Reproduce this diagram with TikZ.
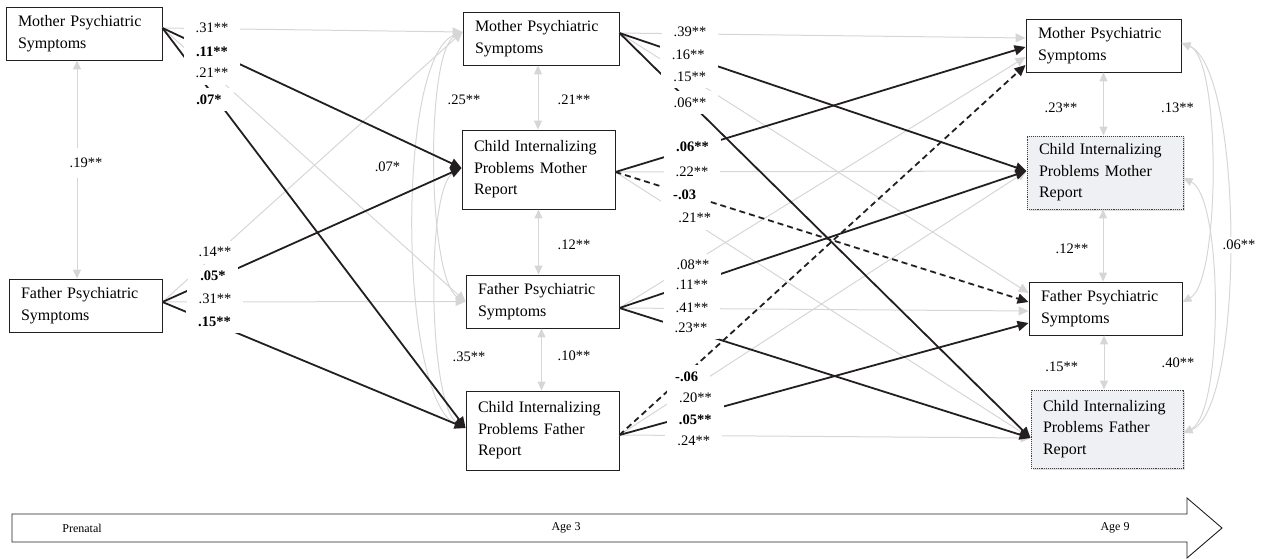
\documentclass[tikz,border=0pt]{standalone}
\usepackage{fontspec}
\setmainfont{Liberation Serif}
\usetikzlibrary{arrows.meta,shadows,calc}
\definecolor{lg}{RGB}{214,214,216}
\definecolor{dk}{RGB}{35,31,32}
\definecolor{boxfill}{RGB}{239,240,243}
\tikzset{
 box/.style={draw=dk, line width=0.9pt, align=left, inner xsep=12pt, inner ysep=0pt, font=\fontsize{16}{21.5}\selectfont},
 sbox/.style={box, fill=boxfill, draw=black!75, densely dotted, drop shadow={shadow xshift=1.5pt, shadow yshift=-1.5pt, opacity=0.25}},
 gl/.style={draw=lg, line width=1pt, -{Triangle[length=10pt,width=9pt]}},
 bl/.style={draw=dk, line width=1.8pt, -{Triangle[length=11pt,width=10pt]}},
 dl/.style={bl, dash pattern=on 6pt off 4pt},
 gd/.style={draw=lg, line width=1pt, {Triangle[length=9pt,width=8pt]}-{Triangle[length=9pt,width=8pt]}},
 lab/.style={fill=white, inner xsep=12pt, inner ysep=3pt, minimum height=23pt, font=\fontsize{14.5}{16}\selectfont},
 blab/.style={lab, font=\fontsize{14.5}{16}\selectfont\bfseries},
 clab/.style={fill=white, inner xsep=3pt, inner ysep=3pt, font=\fontsize{14.5}{16}\selectfont},
 tlab/.style={inner sep=0pt, font=\fontsize{12}{14}\selectfont},
}
\begin{document}
\begin{tikzpicture}[x=1pt,y=-1pt]
\path[use as bounding box] (0,0) rectangle (1263,559);

% boxes
\node[box, text width=132pt, minimum height=53pt] (LM) at (84,33.5) {Mother Psychiatric\\Symptoms};
\node[box, text width=129pt, minimum height=53pt] (LF) at (85.5,305.5) {Father Psychiatric\\Symptoms};
\node[box, text width=132pt, minimum height=53pt] (mM) at (541,38.5) {Mother Psychiatric\\Symptoms};
\node[box, text width=129pt, minimum height=79pt] (mCM) at (538.5,169.5) {Child Internalizing\\Problems Mother\\Report};
\node[box, text width=129pt, minimum height=53pt] (mF) at (542.5,301.5) {Father Psychiatric\\Symptoms};
\node[box, text width=129pt, minimum height=79pt] (mCF) at (542.5,430.5) {Child Internalizing\\Problems Father\\Report};
\node[box, text width=131pt, minimum height=53pt] (rM) at (1103.5,45.5) {Mother Psychiatric\\Symptoms};
\node[sbox, text width=132pt, minimum height=73pt] (rCM) at (1105,172.5) {Child Internalizing\\Problems Mother\\Report};
\node[box, text width=129pt, minimum height=53pt] (rF) at (1105.5,308.5) {Father Psychiatric\\Symptoms};
\node[sbox, text width=128pt, minimum height=78pt] (rCF) at (1107,429) {Child Internalizing\\Problems Father\\Report};

% connection points
\coordinate (LMo) at ([yshift=5.5pt]LM.east);
\coordinate (LFo) at ([yshift=3.5pt]LF.east);
\coordinate (mMi) at ([yshift=6.5pt]mM.west);
\coordinate (mCMi) at ([yshift=1.5pt]mCM.west);
\coordinate (mFi) at (mF.west);
\coordinate (mCFi) at ([yshift=2.5pt]mCF.west);
\coordinate (mMo) at ([yshift=5.5pt]mM.east);
\coordinate (mCMo) at ([yshift=-2.5pt]mCM.east);
\coordinate (mFo) at ([yshift=-6.5pt]mF.east);
\coordinate (mCFo) at ([yshift=-4.5pt]mCF.east);
\coordinate (rMa) at ([yshift=7.5pt]rM.west);
\coordinate (rMb) at ([yshift=-1.5pt]rM.west);
\coordinate (rMc) at ([yshift=-11.5pt]rM.west);
\coordinate (rMd) at ([yshift=-19.5pt]rM.west);
\coordinate (rCMi) at ([yshift=1.5pt]rCM.west);
\coordinate (rFa) at ([yshift=15.5pt]rF.west);
\coordinate (rFb) at ([yshift=6.5pt]rF.west);
\coordinate (rFc) at ([yshift=-2.5pt]rF.west);
\coordinate (rFd) at ([yshift=-14.5pt]rF.west);
\coordinate (rCFi) at ([yshift=-9pt]rCF.west);
\coordinate (rMe) at ([yshift=2.5pt]rM.east);
\coordinate (rCMe) at ([yshift=-5.5pt]rCM.east);
\coordinate (rFe) at ([yshift=6.5pt]rF.east);
\coordinate (rCFe) at ([yshift=-4pt]rCF.east);

% gray paths
\draw[gl] (LMo) -- (mMi);
\draw[gl] (LMo) -- (mFi);
\draw[gl] (LFo) -- (mMi);
\draw[gl] (LFo) -- (mFi);
\draw[gl] (mMo) -- (rMa);
\draw[gl] (mMo) -- (rFa);
\draw[gl] (mCMo) -- (rCMi);
\draw[gl] (mCMo) -- (rCFi);
\draw[gl] (mFo) -- (rMc);
\draw[gl] (mFo) -- (rFc);
\draw[gl] (mCFo) -- (rCMi);
\draw[gl] (mCFo) -- (rCFi);

% correlations
\draw[gd] ([xshift=-7pt]LM.south) -- ([xshift=-7pt]LM.south |- LF.north);
\draw[gd] ([xshift=-3pt]mM.south) -- ([xshift=-3pt]mM.south |- mCM.north);
\draw[gd] (mCM.south) -- (mCM.south |- mF.north);
\draw[gd] ([xshift=-1pt]mF.south) -- ([xshift=-1pt]mF.south |- mCF.north);
\draw[gd] (rM.south) -- (rM.south |- rCM.north);
\draw[gd] ([xshift=-2pt]rCM.south) -- ([xshift=-2pt]rCM.south |- rF.north);
\draw[gd] ([xshift=-1.5pt]rF.south) -- ([xshift=-1.5pt]rF.south |- rCF.north);
\draw[gd] (mMi) .. controls +(-38,20) and +(-38,-20) .. (mFi);
\draw[gd] (mMi) .. controls +(-67,25) and +(-67,-25) .. (mCFi);
\draw[gd] (mCMi) .. controls +(-37,20) and +(-37,-20) .. (mCFi);
\draw[gd] (rMe) .. controls +(40,15) and +(38,-20) .. (rFe);
\draw[gd] (rMe) .. controls +(62,25) and +(62,-25) .. (rCFe);
\draw[gd] (rCMe) .. controls +(40,20) and +(40,-20) .. (rCFe);

% black paths
\draw[bl] (LMo) -- (mCMi);
\draw[bl] (LMo) -- (mCFi);
\draw[bl] (LFo) -- (mCMi);
\draw[bl] (LFo) -- (mCFi);
\draw[bl] (mMo) -- (rCMi);
\draw[bl] (mMo) -- (rCFi);
\draw[bl] (mCMo) -- (rMb);
\draw[dl] (mCMo) -- (rFb);
\draw[bl] (mFo) -- (rCMi);
\draw[bl] (mFo) -- (rCFi);
\draw[dl] (mCFo) -- (rMd);
\draw[bl] (mCFo) -- (rFd);

% path labels
\node[lab]  (a1) at (212,28.3) {.31**};
\node[blab] (a2) at (212,51.7) {.11**};
\node[lab]  (a3) at (212,73.3) {.21**};
\node[blab] (a4) at (209,99.3) {.07*};
\node[lab]  (a5) at (215,252.3) {.14**};
\node[blab] (a6) at (213,276) {.05*};
\node[lab]  (a7) at (215,298.3) {.31**};
\node[blab] (a8) at (214.5,321.7) {.15**};

\node[lab]  (b1) at (690,32.3) {.39**};
\node[lab]  (b2) at (688.3,55) {.16**};
\node[lab]  (b3) at (689.7,76.7) {.15**};
\node[lab]  (b4) at (690,102.7) {.06**};
\node[blab] (b5) at (692.5,146.7) {.06**};
\node[lab]  (b6) at (692,172.3) {.22**};
\node[blab] (b7) at (684.7,195) {-.03};
\node[lab]  (b8) at (694.7,218.3) {.21**};
\node[lab]  (b9) at (693,265) {.08**};
\node[lab]  (b10) at (692,285) {.11**};
\node[lab]  (b11) at (692,308.3) {.41**};
\node[lab]  (b12) at (691,327.3) {.23**};
\node[blab] (b13) at (686.7,376.7) {-.06};
\node[lab]  (b14) at (695.5,397.3) {.20**};
\node[blab] (b15) at (695.3,420) {.05**};
\node[lab]  (b16) at (693.8,440.7) {.24**};

% correlation labels
\node[clab, inner ysep=10pt] (c1) at (86,163) {.19**};
\node[clab] (c2) at (464,100) {.25**};
\node[clab] (c3) at (574,100) {.21**};
\node[clab] (c4) at (387.5,166.7) {.07*};
\node[clab] (c5) at (574,245) {.12**};
\node[clab] (c6) at (469,356.7) {.35**};
\node[clab] (c7) at (574,356) {.10**};
\node[clab] (d1) at (1061,108.3) {.23**};
\node[clab] (d2) at (1177.5,108.3) {.13**};
\node[clab] (d3) at (1072,249) {.12**};
\node[clab] (d4) at (1239,245) {.06**};
\node[clab] (d5) at (1061.7,367) {.15**};
\node[clab] (d6) at (1178,363) {.40**};

% time arrow
\draw[draw=dk, line width=0.9pt] (12,514) -- (1187,514) -- (1187,498) -- (1222,528) -- (1187,558) -- (1187,542) -- (12,542) -- cycle;
\node[tlab] (t1) at (82,528) {Prenatal};
\node[tlab] (t2) at (566,528) {Age 3};
\node[tlab] (t3) at (1115,528) {Age 9};
\end{tikzpicture}
\end{document}
